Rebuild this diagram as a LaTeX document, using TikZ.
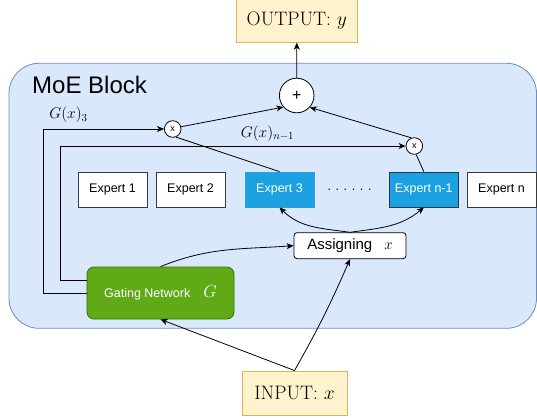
\RequirePackage{fix-cm}
\documentclass[tikz,border=0pt]{standalone}
\usepackage{fontspec}
\newfontfamily\arialf{Liberation Sans}
\usetikzlibrary{arrows.meta}
\definecolor{blockfill}{HTML}{DAE8FC}
\definecolor{blockdraw}{HTML}{6C8EBF}
\definecolor{yelfill}{HTML}{FFF2CC}
\definecolor{yeldraw}{HTML}{D6B656}
\definecolor{bluefill}{HTML}{1BA1E2}
\definecolor{bluedraw}{HTML}{3A9BD0}
\definecolor{darkblue}{HTML}{1F3A4F}
\definecolor{greenfill}{HTML}{60A917}
\definecolor{greendraw}{HTML}{2D7600}
\definecolor{greydraw}{HTML}{36393D}
\tikzset{
  arr/.style={line width=0.8pt,-{Stealth[length=7pt,width=6pt,inset=2pt]}},
  plain/.style={line width=0.8pt},
  iobox/.style={draw=yeldraw,fill=yelfill,line width=0.8pt,inner sep=0pt,font=\fontsize{19.5}{23}\selectfont},
  expbox/.style={draw=greydraw,fill=white,line width=0.8pt,inner sep=0pt,minimum width=69pt,minimum height=35pt,font=\arialf\fontsize{12.5}{15}\selectfont},
  hotbox/.style={expbox,fill=bluefill,text=white},
  mult/.style={circle,draw,fill=white,line width=0.8pt,inner sep=0pt,minimum size=16.6pt,font=\arialf\fontsize{9}{10}\selectfont},
  glabel/.style={font=\fontsize{15.5}{18}\selectfont,inner sep=0pt}
}
\begin{document}
\begin{tikzpicture}[x=1pt,y=-1pt]
\useasboundingbox (0,0) rectangle (537,417);
% block
\node[draw=blockdraw,fill=blockfill,line width=0.8pt,rounded corners=30pt,minimum width=527.5pt,minimum height=265pt,inner sep=0pt] (block) at (272.75,195.8) {};
\node[anchor=base west,inner sep=0pt,font=\arialf\fontsize{24}{28}\selectfont] (moelabel) at (32,93) {MoE Block};
% output / input
\node[iobox,minimum width=121.7pt,minimum height=43.3pt] (output) at (296.8,20.65) {OUTPUT: $y$};
\node[iobox,minimum width=105pt,minimum height=44.7pt] (input) at (294.5,393.3) {INPUT: $x$};
% plus and multipliers
\node[circle,draw,fill=white,line width=0.8pt,inner sep=0pt,minimum size=34.6pt,font=\arialf\fontsize{16}{18}\selectfont] (plus) at (296.7,95.5) {+};
\node[mult] (times1) at (172.7,129) {x};
\node[mult] (times2) at (414.3,146) {x};
% experts
\node[expbox] (e1) at (112.5,189.5) {Expert 1};
\node[expbox] (e2) at (190.5,189.5) {Expert 2};
\node[hotbox,draw=bluedraw] (e3) at (279.5,189.5) {Expert 3};
\node[inner sep=0pt,font=\arialf\fontsize{12.5}{15}\selectfont] (dots) at (349.5,189.5) {. . . . . .};
\node[hotbox,draw=darkblue] (en1) at (423.8,189.5) {Expert n-1};
\node[expbox] (en) at (501.5,189.5) {Expert n};
% assigning and gating
\node[draw=black,fill=white,line width=0.8pt,rounded corners=3pt,inner sep=0pt,minimum width=112pt,minimum height=26pt,font=\arialf\fontsize{15}{18}\selectfont] (assign) at (350,245.7) {Assigning\hspace{12pt}$x$};
\node[draw=greendraw,fill=greenfill,line width=0.8pt,rounded corners=7pt,inner sep=0pt,minimum width=147pt,minimum height=52pt,text=white,font=\arialf\fontsize{12.5}{15}\selectfont] (gate) at (160.5,293) {Gating Network\hspace{13pt}{\fontsize{17.5}{20}\selectfont$G$}\hspace{15pt}};
% labels
\node[glabel] (g3) at (68.5,115) {$G(x)_3$};
\node[glabel] (gn1) at (267.5,133.5) {$G(x)_{n-1}$};
% connectors
\draw[arr] (plus.north) -- (output.south);
\draw[arr] (times1.15) -- (plus.221);
\draw[arr] (times2.110) -- (plus.318);
\draw[plain] (e3.north) -- (times1.292);
\draw[plain] (en1.north) -- (times2.282);
\draw[arr] (gate.west) -- ([xshift=-43.3pt]gate.west) |- (times1.west);
\draw[arr] ([yshift=13pt]gate.west) -- ([xshift=-26pt,yshift=13pt]gate.west) |- (times2.west);
\draw[arr] (gate.north) to[out=22,in=184] (assign.west);
\draw[arr] (assign.north) to[out=172,in=-45] (e3.south);
\draw[arr] (assign.north) to[out=8,in=-140] (en1.south);
\draw[arr] (input.north) -- (gate.south);
\draw[arr] (input.north) to[bend right=3] (assign.south);
\end{tikzpicture}
\end{document}
